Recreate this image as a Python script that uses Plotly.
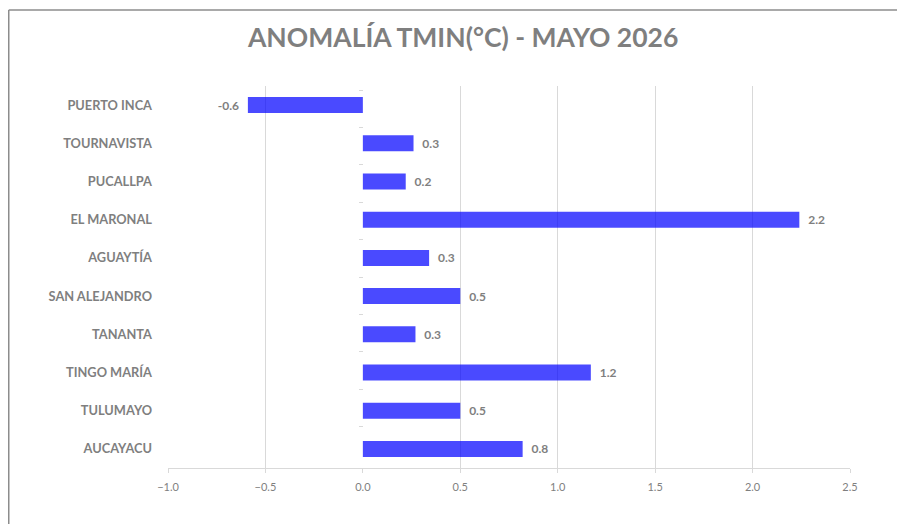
import plotly.graph_objects as go

estaciones = ['PUERTO INCA', 'TOURNAVISTA', 'PUCALLPA', 'EL MARONAL', 'AGUAYTÍA',
              'SAN ALEJANDRO', 'TANANTA', 'TINGO MARÍA', 'TULUMAYO', 'AUCAYACU']
anomalia = [-0.59, 0.26, 0.22, 2.24, 0.34, 0.50, 0.27, 1.17, 0.50, 0.82]
ticks_x = [-1.0, -0.5, 0.0, 0.5, 1.0, 1.5, 2.0, 2.5]

FONT = 'Lato'
GRIS = '#7f7f7f'
GRID = '#d9d9d9'

# pequeño espacio entre barra y etiqueta
plantillas = ['%{x:.1f}  ' if v < 0 else '  %{x:.1f}' for v in anomalia]

fig = go.Figure()
fig.add_trace(go.Bar(
    x=anomalia, y=estaciones, orientation='h',
    marker=dict(color='rgba(0,0,255,0.71)', line=dict(width=0)),
    texttemplate=plantillas, textposition='outside',
    textfont=dict(family=FONT, size=12, color=GRIS, weight='bold'),
    cliponaxis=False, showlegend=False,
))
# eje vertical en x=0 (solo marcas)
fig.add_trace(go.Scatter(
    x=[0] * len(estaciones), y=estaciones, yaxis='y2', mode='markers',
    marker=dict(opacity=0), hoverinfo='skip', showlegend=False,
))

borde = dict(color='#8c8c8c', width=1.5)

fig.update_layout(
    width=889, height=516,
    margin=dict(l=160, r=47, t=78, b=56),
    paper_bgcolor='white', plot_bgcolor='white',
    bargap=0.58,
    title=dict(text='<b>ANOMALÍA TMIN(°C) - MAYO 2026</b>', x=0.512, xref='container',
               y=0.942, yanchor='middle', xanchor='center',
               font=dict(family=FONT, size=26.5, color=GRIS)),
    xaxis=dict(range=[-1.0, 2.5], tickvals=ticks_x, tickformat='.1f',
               showgrid=True, gridcolor=GRID, gridwidth=1,
               zeroline=True, zerolinecolor='white', zerolinewidth=2,
               showline=True, linecolor=GRID, linewidth=1,
               ticks='outside', ticklen=4, tickcolor=GRID, ticklabelstandoff=5,
               tickfont=dict(family=FONT, size=11, color=GRIS)),
    yaxis=dict(autorange='reversed', type='category', showgrid=False,
               showline=False, zeroline=False, ticks='', ticklabelstandoff=15,
               tickfont=dict(family=FONT, size=12.8, color=GRIS, weight='bold')),
    yaxis2=dict(overlaying='y', anchor='free', position=1 / 3.5, side='left',
                type='category', categoryarray=estaciones, autorange='reversed',
                tickson='boundaries', ticks='outside', ticklen=4, tickcolor=GRID,
                showticklabels=False, showgrid=False, showline=False, zeroline=False),
    shapes=[
        dict(type='line', xref='paper', yref='paper',
             x0=-0.2335, x1=1.2, y0=1.199, y1=1.199, line=borde),
        dict(type='line', xref='paper', yref='paper',
             x0=-0.2335, x1=-0.2335, y0=-0.2, y1=1.199, line=borde),
    ],
)

fig.write_html('out.html')
